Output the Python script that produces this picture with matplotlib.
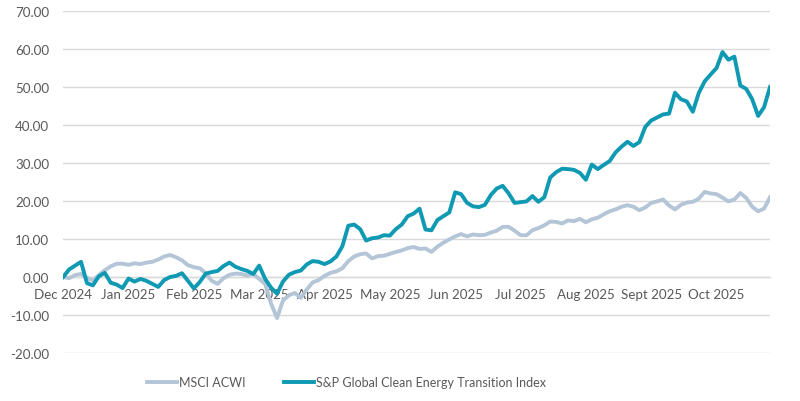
import matplotlib.pyplot as plt
import numpy as np

# Cumulative return (%) sampled every 2 trading days, Dec 2024 - Oct 2025
msci_acwi = [
    0.0, -0.3, 0.5, 0.8, -0.2, -0.9, 0.5, 1.8, 2.8, 3.5,
    3.5, 3.2, 3.6, 3.4, 3.8, 4.0, 4.6, 5.4, 5.8, 5.2,
    4.4, 3.1, 2.6, 2.3, 1.0, -1.0, -1.8, -0.3, 0.6, 0.9,
    0.8, 0.4, 0.8, -0.5, -1.8, -7.0, -10.8, -6.2, -4.8, -4.2,
    -5.5, -3.3, -1.4, -0.8, 0.3, 1.1, 1.5, 2.3, 4.2, 5.4,
    6.0, 6.2, 4.9, 5.5, 5.6, 6.1, 6.6, 7.0, 7.6, 7.9,
    7.4, 7.5, 6.6, 8.0, 9.0, 9.9, 10.7, 11.3, 10.7, 11.2,
    11.0, 11.1, 11.7, 12.2, 13.2, 13.2, 12.2, 11.0, 11.0, 12.3,
    12.9, 13.6, 14.6, 14.5, 14.1, 14.9, 14.7, 15.3, 14.4, 15.2,
    15.6, 16.5, 17.3, 17.8, 18.5, 18.9, 18.5, 17.6, 18.3, 19.5,
    19.9, 20.4, 18.8, 17.8, 19.0, 19.6, 19.8, 20.6, 22.4, 22.0,
    21.8, 20.9, 19.9, 20.4, 22.1, 20.8, 18.5, 17.3, 18.0, 21.0,
]
sp_clean_energy = [
    0.0, 2.0, 3.0, 4.0, -1.6, -2.2, 0.2, 1.1, -1.5, -2.0,
    -2.9, -0.4, -1.2, -0.5, -1.0, -1.8, -2.6, -0.8, 0.0, 0.3,
    1.0, -1.0, -3.0, -1.3, 0.9, 1.3, 1.6, 2.9, 3.8, 2.7,
    2.1, 1.6, 0.8, 3.0, -0.5, -2.8, -4.4, -1.2, 0.6, 1.3,
    1.7, 3.3, 4.2, 4.0, 3.4, 4.1, 5.4, 8.1, 13.5, 13.8,
    12.6, 9.6, 10.2, 10.4, 11.0, 10.9, 12.6, 13.8, 16.0, 16.7,
    18.0, 12.5, 12.3, 15.0, 16.0, 17.0, 22.3, 21.8, 19.5, 18.6,
    18.4, 19.0, 21.6, 23.3, 24.0, 22.0, 19.5, 19.7, 19.9, 21.3,
    19.8, 21.0, 26.2, 27.6, 28.5, 28.4, 28.2, 27.4, 25.6, 29.6,
    28.4, 29.5, 30.5, 32.8, 34.3, 35.6, 34.5, 35.5, 39.5, 41.2,
    42.0, 42.8, 43.0, 48.5, 46.8, 46.2, 43.5, 48.4, 51.5, 53.3,
    55.0, 59.2, 57.2, 58.0, 50.4, 49.5, 46.8, 42.4, 44.7, 50.0,
]
month_labels = ["Dec 2024", "Jan 2025", "Feb 2025", "Mar 2025", "Apr 2025", "May 2025",
                "Jun 2025", "Jul 2025", "Aug 2025", "Sept 2025", "Oct 2025"]
days_per_label = 22
step = 2

days = np.arange(len(msci_acwi)) * step

plt.rcParams['font.family'] = ['Lato', 'DejaVu Sans']
text_color = '#595959'
grid_color = '#D9D9D9'

fig = plt.figure(figsize=(8.0, 4.02), dpi=100)
ax = fig.add_axes([0.079, 0.1194, 0.8835, 0.8506])

ax.plot(days, msci_acwi, color='#B3C5D6', linewidth=2.8, label='MSCI ACWI',
        solid_joinstyle='round', zorder=3)
ax.plot(days, sp_clean_energy, color='#0F99B3', linewidth=2.8,
        label='S&P Global Clean Energy Transition Index', solid_joinstyle='round', zorder=4)

ax.set_xlim(0, days[-1])
ax.set_ylim(-20, 70)

yticks = np.arange(-20, 71, 10)
ax.set_yticks(yticks)
ax.set_yticklabels([f"{v:.2f}" for v in yticks])
ax.yaxis.grid(True, color=grid_color, linewidth=1.0)
ax.set_axisbelow(True)

ax.set_xticks(np.arange(len(month_labels)) * days_per_label)
ax.set_xticklabels(month_labels)

# category axis crosses at zero
for side in ['top', 'right', 'left']:
    ax.spines[side].set_visible(False)
ax.spines['bottom'].set_position(('data', 0))
ax.spines['bottom'].set_color(grid_color)
ax.spines['bottom'].set_linewidth(1.0)

ax.tick_params(axis='both', length=0, labelsize=9.6, labelcolor=text_color)
ax.tick_params(axis='y', pad=10)
ax.tick_params(axis='x', pad=8)

fig.legend(loc='center', bbox_to_anchor=(0.433, 0.047), ncol=2, frameon=False,
           fontsize=9.0, labelcolor=text_color, handlelength=2.4, handletextpad=0.15,
           columnspacing=3.1)

fig.savefig('out.png', dpi=100)
